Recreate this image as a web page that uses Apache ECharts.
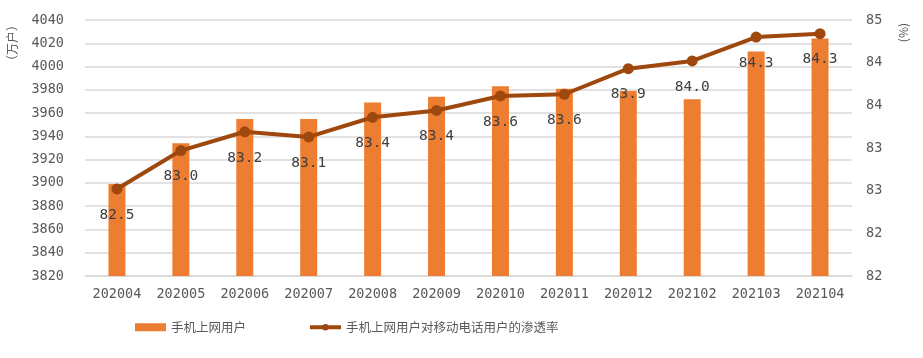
<!DOCTYPE html>
<html>
<head>
<meta charset="utf-8">
<script src="https://cdn.jsdelivr.net/npm/echarts@6/dist/echarts.min.js"></script>
<style>html,body{margin:0;padding:0;background:#fff}#c{width:923px;height:358px}</style>
</head>
<body>
<div id="c"></div>
<script>
var categories = ['202004','202005','202006','202007','202008','202009','202010','202011','202012','202102','202103','202104'];
var mobileUsers = [3899, 3934, 3955, 3955, 3969, 3974, 3983, 3981, 3979, 3972, 4013, 4024];
var penetration = [82.52, 82.97, 83.19, 83.13, 83.36, 83.44, 83.61, 83.63, 83.93, 84.02, 84.30, 84.34];
var leftTicks = {min: 3820, max: 4040, interval: 20};
var rightTicks = {min: 81.5, max: 84.5, interval: 0.5};

var numFont = 'DejaVu Sans Mono';
var cjkFont = 'Noto Sans CJK SC';
var chart = echarts.init(document.getElementById('c'));
chart.setOption({
  animation: false,
  grid: {left: 85, right: 71, top: 20, bottom: 82},
  legend: {
    left: 130, top: 316,
    itemWidth: 31, itemHeight: 8, itemGap: 62,
    textStyle: {fontFamily: cjkFont, fontSize: 12.5, color: '#595959'},
    data: [
      {name: '手机上网用户', icon: 'rect'},
      {name: '手机上网用户对移动电话用户的渗透率', lineStyle: {width: 4, color: '#9E480E'}, itemStyle: {color: '#9E480E'}}
    ]
  },
  graphic: [
    {type: 'text', left: 6, top: 19, style: {text: '（万户）', font: '12px "Noto Sans CJK SC"', fill: '#595959'}, rotation: Math.PI/2},
    {type: 'text', left: 897, top: 23, style: {text: '(%)', font: '12px "Noto Sans CJK SC"', fill: '#595959'}, rotation: Math.PI/2}
  ],
  xAxis: {
    type: 'category', data: categories,
    axisLine: {lineStyle: {color: '#d9d9d9', width: 1.5}},
    axisTick: {show: false},
    axisLabel: {margin: 11, fontFamily: numFont, fontSize: 13.5, color: '#595959'}
  },
  yAxis: [
    {
      type: 'value', min: leftTicks.min, max: leftTicks.max, interval: leftTicks.interval,
      axisLine: {show: false}, axisTick: {show: false},
      axisLabel: {margin: 21, fontFamily: numFont, fontSize: 13.5, color: '#595959',
        formatter: function (v) { return String(v); }},
      splitLine: {lineStyle: {color: '#d9d9d9', width: 1.5}}
    },
    {
      type: 'value', min: rightTicks.min, max: rightTicks.max, interval: rightTicks.interval,
      axisLine: {show: false}, axisTick: {show: false}, splitLine: {show: false},
      axisLabel: {margin: 14, fontFamily: numFont, fontSize: 13.5, color: '#595959',
        formatter: function (v) { return String(Math.round(v)); }}
    }
  ],
  series: [
    {
      name: '手机上网用户', type: 'bar', data: mobileUsers, barWidth: 17,
      itemStyle: {color: '#ED7D31'}
    },
    {
      name: '手机上网用户对移动电话用户的渗透率', type: 'line', yAxisIndex: 1, data: penetration,
      symbol: 'circle', symbolSize: 11,
      lineStyle: {color: '#9E480E', width: 4},
      itemStyle: {color: '#9E480E'},
      label: {show: true, position: 'bottom', distance: 13, fontFamily: numFont, fontSize: 14.5, color: '#404040',
        formatter: function (p) { return p.value.toFixed(1); }}
    }
  ]
});
</script>
</body>
</html>
